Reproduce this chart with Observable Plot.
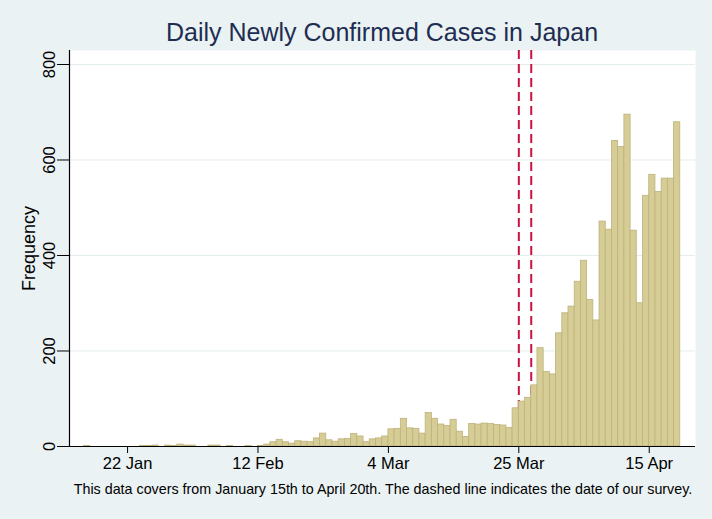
<!DOCTYPE html>
<html>
<head>
<meta charset="utf-8">
<script src="https://cdn.jsdelivr.net/npm/d3@7"></script>
<script src="https://cdn.jsdelivr.net/npm/@observablehq/plot@0.6"></script>
<style>
  html, body { margin: 0; padding: 0; background: #EAF2F3; }
  #wrap { position: relative; width: 712px; height: 519px; background: #EAF2F3; overflow: hidden;
          font-family: "Liberation Sans", Arial, sans-serif; }
  #chart { position: absolute; left: 0; top: 0; }
  #title { position: absolute; left: 69px; width: 626px; top: 20px; line-height: 25px; text-align: center;
           font-size: 25px; color: #1E2D52; white-space: nowrap; }
  #caption { position: absolute; left: 54px; width: 658px; top: 482px; line-height: 14px; text-align: center;
             font-size: 14.3px; color: #000; white-space: nowrap; }
</style>
</head>
<body>
<div id="wrap">
  <div id="chart"></div>
  <div id="title">Daily Newly Confirmed Cases in Japan</div>
  <div id="caption">This data covers from January 15th to April 20th. The dashed line indicates the date of our survey.</div>
</div>
<script>
// ---- data ----
const firstDay = "2020-01-15";
// daily new confirmed cases, one value per day starting at firstDay
const janCases = [1, 0, 0, 0, 0, 0, 0, 0, 0, 1, 1, 2, 0, 2, 1, 4, 2];
const febCases = [2, 0, 0, 2, 2, 0, 1, 0, 0, 1, 0, 1, 4, 9, 14, 9, 6, 11, 10, 9, 17, 27, 13, 10, 15, 16, 26, 21, 9];
const marCases = [15, 17, 21, 36, 37, 58, 38, 37, 27, 70, 58, 46, 43, 56, 31, 20, 47, 46, 48, 47, 45, 44, 39, 80, 94, 102, 128, 206, 156, 151, 237];
const aprCases = [279, 293, 345, 389, 307, 264, 471, 454, 640, 627, 695, 452, 300, 525, 569, 533, 561, 561, 679];
const xTickDates = ["2020-01-22", "2020-02-12", "2020-03-04", "2020-03-25", "2020-04-15"];
const yTickValues = [0, 200, 400, 600, 800];
const surveyDates = ["2020-03-25", "2020-03-27"];
const yLabel = "Frequency";

// ---- build table ----
const DAY = 864e5;
const cases = [...janCases, ...febCases, ...marCases, ...aprCases];
const start = new Date(firstDay);
const rows = cases.map((v, i) => ({
  start: new Date(+start + i * DAY),
  end: new Date(+start + (i + 1) * DAY),
  value: v
}));
const xDomain = [new Date(+start - 2.35 * DAY), new Date(+start + 98.45 * DAY)];

const chart = Plot.plot({
  width: 712,
  height: 519,
  marginLeft: 69,
  marginRight: 17,
  marginTop: 50,
  marginBottom: 73,
  style: { background: "transparent", fontFamily: "'Liberation Sans', Arial, sans-serif", fontSize: "16.5px", color: "#000" },
  x: { type: "utc", domain: xDomain },
  y: { domain: [0, 829.3] },
  marks: [
    Plot.frame({ fill: "white", stroke: "none" }),
    Plot.gridY(yTickValues.slice(1), { stroke: "#E3ECEE", strokeOpacity: 1, strokeWidth: 1 }),
    Plot.ruleX(surveyDates.map(d => new Date(d)), { stroke: "#C8143F", strokeWidth: 2, strokeDasharray: "9,5" }),
    Plot.rectY(rows, { x1: "start", x2: "end", y: "value", fill: "#D6CD96", stroke: "#BDB27A", strokeWidth: 0.8 }),
    Plot.axisY({ ticks: yTickValues, tickSize: 12, tickRotate: -90, tickPadding: 3, fontSize: 16.5, label: null }),
    Plot.axisX({ ticks: xTickDates.map(d => new Date(d)), tickSize: 7, tickPadding: 4, fontSize: 16.5,
                 tickFormat: d3.utcFormat("%-d %b"), label: null }),
    Plot.ruleY([0], { stroke: "#000", strokeWidth: 1.2 }),
    Plot.ruleX([xDomain[0]], { stroke: "#000", strokeWidth: 1.2 }),
    Plot.text([yLabel], { frameAnchor: "left", textAnchor: "middle", dx: -40, rotate: -90, fontSize: 18, fill: "#000" })
  ]
});
document.getElementById("chart").appendChild(chart);
</script>
</body>
</html>
